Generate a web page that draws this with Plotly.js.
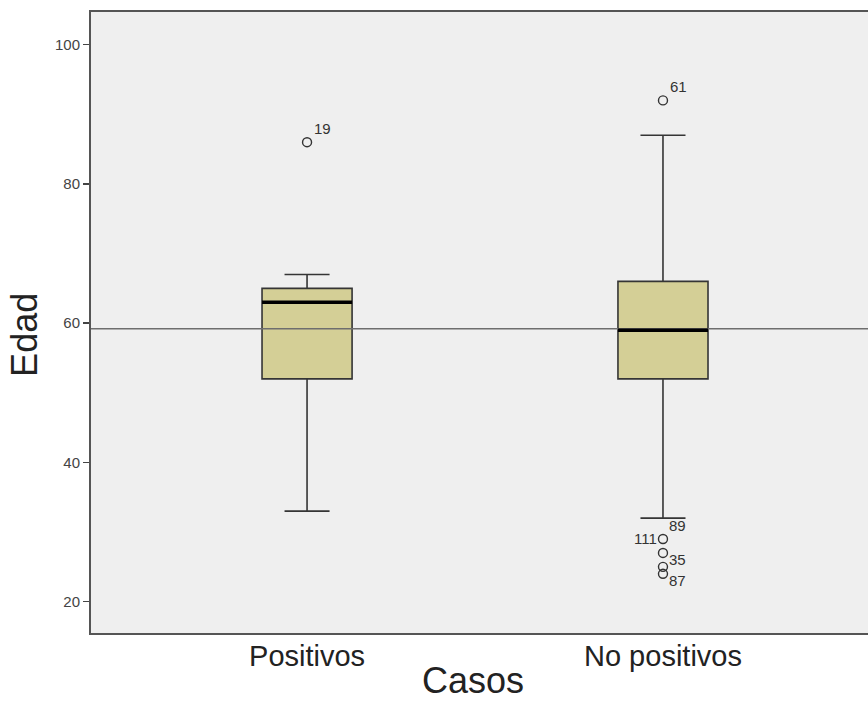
<!DOCTYPE html>
<html>
<head>
<meta charset="utf-8">
<script src="https://cdn.plot.ly/plotly-3.0.1.min.js"></script>
<style>html,body{margin:0;padding:0;background:#fff;}</style>
</head>
<body>
<div id="chart" style="width:868px;height:719px;"></div>
<script>
// Data
const categories = ["Positivos", "No positivos"];
const lowerWhisker = [33, 32];
const q1 = [52, 52];
const median = [63, 59];
const q3 = [65, 66];
const upperWhisker = [67, 87];
const refLine = 59.2;

// outlier circles
const outlierCat = ["Positivos", "No positivos", "No positivos", "No positivos", "No positivos", "No positivos"];
const outlierVal = [86, 92, 29, 27, 25, 24];

// outlier labels (case ids)
const labelCat = ["Positivos", "No positivos", "No positivos", "No positivos", "No positivos", "No positivos"];
const labelVal = [86, 92, 32, 29, 27, 24];
const labelText = ["19", "61", "89", "111", "35", "87"];
const labelSide = ["above", "above", "below", "left", "below", "below"];

const yTicks = [20, 40, 60, 80, 100];

// styles
const boxWidth = 0.253;
const FONT = "Liberation Sans, Arial, sans-serif";
const sideStyle = {
  above: {xanchor: "left", xshift: 5, yshift: 14},
  below: {xanchor: "left", xshift: 4, yshift: -7},
  left:  {xanchor: "right", xshift: -4, yshift: 1}
};

const traces = [{
  type: "box",
  x: categories,
  q1: q1, median: median, q3: q3,
  lowerfence: lowerWhisker, upperfence: upperWhisker,
  boxpoints: false,
  width: boxWidth,
  whiskerwidth: 0.5,
  fillcolor: "#d4cf96",
  line: {color: "#353535", width: 1.6},
  hoverinfo: "skip",
  showlegend: false
}, {
  type: "scatter",
  mode: "markers",
  x: outlierCat, y: outlierVal,
  marker: {symbol: "circle-open", size: 9, color: "#333", line: {width: 1.4, color: "#333"}},
  showlegend: false, hoverinfo: "skip"
}];

const shapes = [{
  type: "line", xref: "paper", yref: "y",
  x0: 0, x1: 1, y0: refLine, y1: refLine,
  line: {color: "#6e6e6e", width: 1.5}, layer: "above"
}];
categories.forEach((c, i) => {
  shapes.push({
    type: "line", xref: "x", yref: "y",
    x0: i - boxWidth / 2, x1: i + boxWidth / 2,
    y0: median[i], y1: median[i],
    line: {color: "#000", width: 3.5}, layer: "above"
  });
});

const annotations = labelText.map((t, i) => {
  const s = sideStyle[labelSide[i]];
  return {
    xref: "x", yref: "y",
    x: categories.indexOf(labelCat[i]), y: labelVal[i],
    text: t, showarrow: false,
    xanchor: s.xanchor, yanchor: "middle",
    xshift: s.xshift, yshift: s.yshift,
    font: {family: FONT, size: 15, color: "#333"}
  };
});
annotations.push({
  xref: "paper", yref: "paper", x: 0.4916, y: -0.0757,
  xanchor: "center", yanchor: "middle",
  text: "Casos", showarrow: false,
  font: {family: FONT, size: 36, color: "#222"}
});
annotations.push({
  xref: "paper", yref: "paper", x: -0.085, y: 0.48,
  xanchor: "center", yanchor: "middle", textangle: -90,
  text: "Edad", showarrow: false,
  font: {family: FONT, size: 36, color: "#222"}
});

const layout = {
  width: 868, height: 719,
  margin: {l: 91, r: 0, t: 12, b: 86},
  paper_bgcolor: "#ffffff",
  plot_bgcolor: "#efefef",
  font: {family: FONT, color: "#222"},
  showlegend: false,
  xaxis: {
    type: "category",
    range: [-0.607, 1.576],
    showgrid: false, zeroline: false,
    showline: true, mirror: true, linecolor: "#555", linewidth: 2,
    ticks: "",
    ticklabelstandoff: -4,
    tickfont: {size: 29, color: "#222"}
  },
  yaxis: {
    range: [15.5, 104.7],
    tickvals: yTicks,
    ticktext: yTicks.map(String),
    showgrid: false, zeroline: false,
    showline: true, mirror: false, linecolor: "#555", linewidth: 2,
    ticks: "outside", ticklen: 6, tickwidth: 1.5, tickcolor: "#444",
    tickfont: {size: 15, color: "#444"}
  },
  shapes: shapes,
  annotations: annotations
};

Plotly.newPlot("chart", traces, layout, {displayModeBar: false, staticPlot: true});
</script>
</body>
</html>
